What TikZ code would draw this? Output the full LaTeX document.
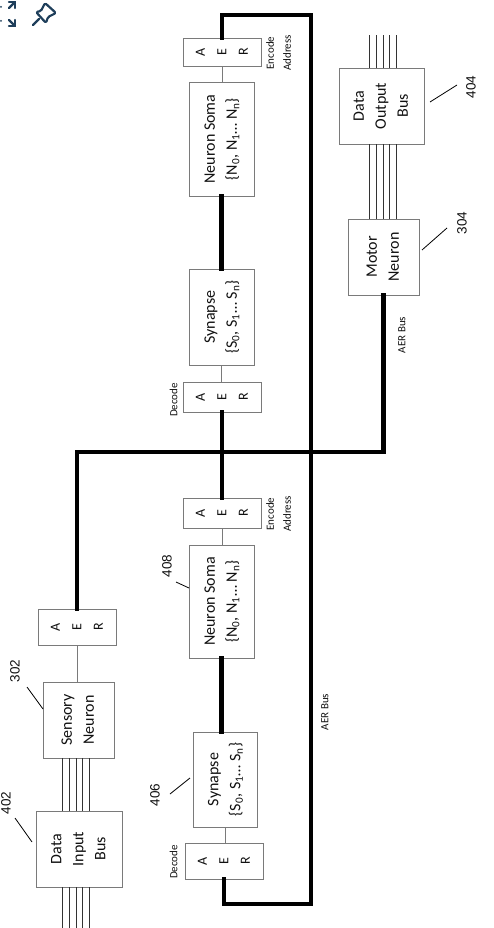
\documentclass[tikz,border=0pt]{standalone}
\usepackage{fontspec}
\setmainfont{Carlito}
\newfontfamily\numfont{Liberation Sans}
\usepackage{graphicx}
\definecolor{boxline}{HTML}{7A7A7A}
\definecolor{iconc}{HTML}{1F3F5B}
\definecolor{txt}{HTML}{111111}
\tikzset{
  blk/.style={draw=boxline, line width=0.9pt, fill=white, inner sep=0pt, text=txt},
  bus/.style={line width=4.2pt, line cap=rect, line join=miter, black},
  thin/.style={draw=boxline, line width=1pt},
  wire/.style={draw=black!80, line width=0.9pt},
  lead/.style={draw=black, line width=0.8pt},
  num/.style={inner sep=0pt, text=txt},
  lbl/.style={inner sep=0pt, text=txt},
  icon/.style={draw=iconc, line width=2.2pt, line join=round, line cap=round}
}
\newcommand{\rt}[1]{\rotatebox{90}{\fontsize{16}{22}\selectfont\begin{tabular}{@{}c@{}}#1\end{tabular}}}
\newcommand{\aer}{\rotatebox{90}{\fontsize{14}{21.5}\selectfont\begin{tabular}{@{}c@{}}A\\E\\R\end{tabular}}}
\newcommand{\sm}[1]{\rotatebox{90}{\fontsize{11}{17}\selectfont\begin{tabular}{@{}c@{}}#1\end{tabular}}}
\newcommand{\nm}[1]{\rotatebox{90}{\numfont\fontsize{13.5}{16}\selectfont #1}}
\begin{document}
\begin{tikzpicture}[x=1pt,y=-1pt]
\useasboundingbox (0,0) rectangle (494,928);
\fill[white] (0,0) rectangle (494,928);
% icon (top left)
\draw[icon] (9,2) -- (15,2) -- (15,8);
\draw[icon] (15,2) -- (9,8);
\draw[icon] (9,26) -- (15,26) -- (15,20);
\draw[icon] (15,26) -- (9,20);
\fill[iconc] (1,7) circle (1pt) (1,21) circle (1pt);
\draw[icon, rounded corners=1.5pt] (36,12) -- (41,11) -- (45,3) -- (56,13) -- (48,17) -- (46,23) -- cycle;
\draw[icon] (39,19) -- (33,25);
% boxes
\node[blk, minimum width=86pt, minimum height=76pt] (dib) at (79,849) {\rt{Data\\Input\\Bus}};
\node[blk, minimum width=71pt, minimum height=76pt] (sn) at (78.5,720) {\rt{Sensory\\Neuron}};
\node[blk, minimum width=78pt, minimum height=36pt] (saer) at (77,627) {\aer};
\node[blk, minimum width=64pt, minimum height=95pt] (syn1) at (225,779.5) {\rt{Synapse\\\{S\textsubscript{0}, S\textsubscript{1}… S\textsubscript{n}\}}};
\node[blk, minimum width=65pt, minimum height=113pt] (ns1) at (221.5,601.5) {\rt{Neuron Soma\\\{N\textsubscript{0}, N\textsubscript{1}… N\textsubscript{n}\}}};
\node[blk, minimum width=78pt, minimum height=36pt] (dec1) at (224,861) {\aer};
\node[blk, minimum width=78pt, minimum height=30pt] (enc1) at (222,513) {\aer};
\node[blk, minimum width=78pt, minimum height=30pt] (dec2) at (222,397) {\aer};
\node[blk, minimum width=65pt, minimum height=96pt] (syn2) at (221.5,317) {\rt{Synapse\\\{S\textsubscript{0}, S\textsubscript{1}… S\textsubscript{n}\}}};
\node[blk, minimum width=65pt, minimum height=114pt] (ns2) at (221.5,139) {\rt{Neuron Soma\\\{N\textsubscript{0}, N\textsubscript{1}… N\textsubscript{n}\}}};
\node[blk, minimum width=78pt, minimum height=28pt] (enc2) at (222,52) {\aer};
\node[blk, minimum width=71pt, minimum height=76pt] (mn) at (383.5,257) {\rt{Motor\\Neuron}};
\node[blk, minimum width=85pt, minimum height=76pt] (dob) at (381.5,106) {\rt{Data\\Output\\Bus}};
% small labels
\node[lbl] (lenc2) at (279,53) {\sm{Encode\\Address}};
\node[lbl] (lenc1) at (279,514) {\sm{Encode\\Address}};
\node[lbl] (ldec2) at (174,400) {\sm{Decode}};
\node[lbl] (ldec1) at (174,862) {\sm{Decode}};
\node[lbl] (lbus1) at (402,335) {\sm{AER Bus}};
\node[lbl] (lbus2) at (325,712) {\sm{AER Bus}};
% numbers
\node[num] (n404) at (471,87) {\nm{404}};
\node[num] (n304) at (462,223) {\nm{304}};
\node[num] (n302) at (15,671) {\nm{302}};
\node[num] (n402) at (6,803) {\nm{402}};
\node[num] (n406) at (155,795) {\nm{406}};
\node[num] (n408) at (167,566) {\nm{408}};
% leader coordinates
\coordinate (a404) at (430,102); \coordinate (b404) at (457,85);
\coordinate (a304) at (422,250); \coordinate (b304) at (447,228);
\coordinate (a302) at (43,709); \coordinate (b302) at (27,687);
\coordinate (a402) at (32,842); \coordinate (b402) at (15,818);
\coordinate (a406) at (190,778); \coordinate (b406) at (170,794);
\coordinate (a408) at (189,588); \coordinate (b408) at (176,582);
\draw[lead] (a404) -- (b404);
\draw[lead] (a304) -- (b304);
\draw[lead] (a302) -- (b302);
\draw[lead] (a402) -- (b402);
\draw[lead] (a406) -- (b406);
\draw[lead] (a408) -- (b408);
% thin connectors
\draw[thin] (enc2.south) -- (enc2.south |- ns2.north);
\draw[thin] (syn2.south) -- (syn2.south |- dec2.north);
\draw[thin] (enc1.south) -- (enc1.south |- ns1.north);
\draw[thin] (syn1.south) -- (syn1.south |- dec1.north);
\draw[thin] (saer.south) -- (saer.south |- sn.north);
% bus wires (5 lines)
\coordinate (bot) at (0,928);
\coordinate (top) at (0,35);
\foreach \dx in {-13.3,-6.7,0,6.7,13.3} {
  \draw[wire] ([xshift=\dx pt]sn.south -| 76,0) -- ([xshift=\dx pt]dib.north -| 76,0);
  \draw[wire] ([xshift=\dx pt]dib.south -| 76,0) -- ([xshift=\dx pt]bot -| 76,0);
  \draw[wire] ([xshift=\dx pt]dob.south -| 383,0) -- ([xshift=\dx pt]mn.north -| 383,0);
  \draw[wire] ([xshift=\dx pt]dob.north -| 383,0) -- ([xshift=\dx pt]top -| 383,0);
}
% thick AER buses
\coordinate (tr) at (311,15);
\coordinate (br) at (311,904);
\coordinate (hy) at (0,452);
\draw[bus] (enc2.north) -- (enc2.north |- tr) -- (tr) -- (br) -- (dec1.south |- br) -- (dec1.south);
\draw[bus] (mn.south) -- (mn.south |- hy) -- (saer.north |- hy) -- (saer.north);
\draw[bus] (dec2.south) -- (enc1.north);
\draw[bus] (ns2.south) -- (syn2.north);
\draw[bus] (ns1.south) -- (ns1.south |- syn1.north);
\end{tikzpicture}
\end{document}
